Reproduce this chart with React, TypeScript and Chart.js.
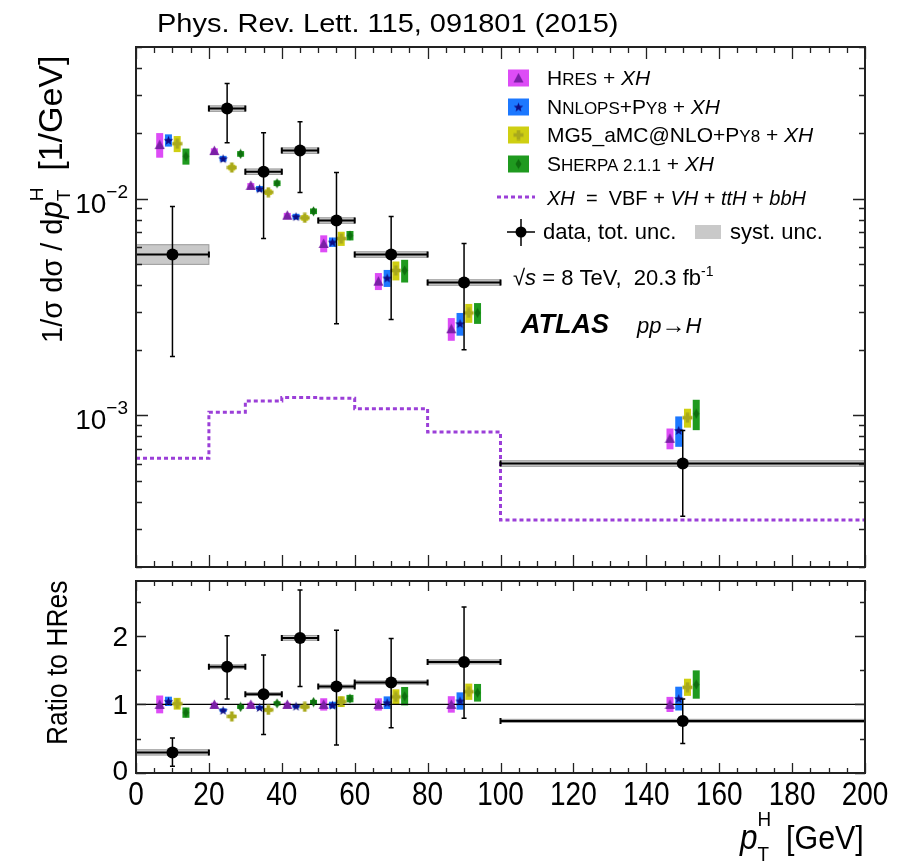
import React, { useEffect, useRef } from "react";
import { Chart, registerables } from "chart.js";
Chart.register(...registerables);

// ---------------- data ----------------
const binLo = [0, 20, 30, 40, 50, 60, 80, 100];
const binHi = [20, 30, 40, 50, 60, 80, 100, 200];
const binCenter = [10, 25, 35, 45, 55, 70, 90, 150];

const dataVal = [5.52e-3, 0.026, 0.0133, 0.01664, 0.00792, 0.00552, 0.0041, 6.0e-4];
const dataErrHi = [9.2e-3, 0.0339, 0.0201, 0.0226, 0.0132, 0.00826, 0.0062, 8.53e-4];
const dataErrLo = [1.87e-3, 0.0181, 0.00655, 0.01066, 0.00265, 0.00277, 0.00201, 3.43e-4];
const dataSystRel = [0.11, 0.03, 0.03, 0.03, 0.03, 0.03, 0.03, 0.03];

const ratioVal = [0.3, 1.55, 1.15, 1.97, 1.26, 1.32, 1.62, 0.76];
const ratioErrHi = [0.51, 2.0, 1.72, 2.67, 2.08, 1.96, 2.42, 1.08];
const ratioErrLo = [0.1, 1.08, 0.56, 1.26, 0.41, 0.66, 0.8, 0.43];
const ratioSystRel = [0.13, 0.018, 0.018, 0.018, 0.018, 0.018, 0.018, 0.03];

const xhVal = [6.34e-4, 1.035e-3, 1.164e-3, 1.21e-3, 1.2e-3, 1.074e-3, 8.38e-4, 3.29e-4];

const hresVal = [0.01774, 0.01664, 0.0115, 0.00838, 0.00621, 0.00416, 0.00251, 7.84e-4];
const nnlopsVal = [0.01857, 0.01528, 0.0111, 0.00826, 0.0063, 0.0043, 0.00265, 8.53e-4];
const mg5Val = [0.0179, 0.0139, 0.0107, 0.00815, 0.00654, 0.00466, 0.00297, 9.76e-4];
const sherpaVal = [0.01567, 0.01607, 0.01177, 0.00874, 0.00675, 0.00466, 0.00297, 1.018e-3];

const hresRatio = [1, 1, 1, 1, 1, 1, 1, 1];
const nnlopsRatio = [1.045, 0.915, 0.955, 0.975, 0.99, 1.025, 1.05, 1.085];
const mg5Ratio = [1.01, 0.825, 0.92, 0.965, 1.04, 1.11, 1.185, 1.25];
const sherpaRatio = [0.88, 0.963, 1.015, 1.035, 1.085, 1.12, 1.17, 1.29];

const hresUnc = [0.13, 0.025, 0.025, 0.025, 0.09, 0.09, 0.12, 0.11];
const nnlopsUnc = [0.065, 0.03, 0.03, 0.03, 0.05, 0.09, 0.12, 0.16];
const mg5Unc = [0.085, 0.03, 0.03, 0.03, 0.075, 0.1, 0.1, 0.1];
const sherpaUnc = [0.085, 0.03, 0.03, 0.03, 0.05, 0.12, 0.11, 0.16];

const modelOffset = [-3.5, -1.1, 1.3, 3.7];

const xTickLabels = ["0", "20", "40", "60", "80", "100", "120", "140", "160", "180", "200"];
const ratioTickLabels = ["0", "1", "2"];
const logTickExp = [-2, -3];

// ---------------- styling ----------------
const FONT = '"Liberation Sans", Arial, Helvetica, sans-serif';
const W = 908;
const TOP_H = 575;
const BOT_H = 292;
const bandColors = ["#dd4cf6", "#1c78ff", "#cfcf12", "#1f9a1f"];
const markerColors = ["#7a1fa6", "#0c0c84", "#a9a91c", "#0f6e0f"];
const markerKinds = ["tri", "star", "plus", "diamond"];
const xhColor = "#9b3fd8";

type Seg = { t: string; size: number; style?: string; dy?: number; adv?: boolean };

function richWidth(ctx: CanvasRenderingContext2D, segs: Seg[]) {
  let w = 0;
  for (const s of segs) {
    ctx.font = `${s.style ?? ""} ${s.size}px ${FONT}`;
    if (s.adv !== false) w += ctx.measureText(s.t).width;
  }
  return w;
}

function drawRich(ctx: CanvasRenderingContext2D, segs: Seg[], x: number, y: number, sx = 1, sy = 1, rot = 0) {
  ctx.save();
  ctx.translate(x, y);
  if (rot) ctx.rotate(rot);
  ctx.scale(sx, sy);
  ctx.fillStyle = "#000";
  ctx.textBaseline = "alphabetic";
  ctx.textAlign = "left";
  let cx = 0;
  for (const s of segs) {
    ctx.font = `${s.style ?? ""} ${s.size}px ${FONT}`;
    ctx.fillText(s.t, cx, s.dy ?? 0);
    if (s.adv !== false) cx += ctx.measureText(s.t).width;
  }
  ctx.restore();
}

function makeMarker(kind: string, color: string) {
  const c = document.createElement("canvas");
  const size = 11;
  c.width = size;
  c.height = size;
  const g = c.getContext("2d")!;
  g.fillStyle = color;
  const m = size / 2;
  g.beginPath();
  if (kind === "tri") {
    g.moveTo(m, 0.5);
    g.lineTo(size - 0.5, size - 1);
    g.lineTo(0.5, size - 1);
    g.closePath();
    g.fill();
  } else if (kind === "star") {
    const R = 5, r = 2.1;
    for (let i = 0; i < 10; i++) {
      const a = -Math.PI / 2 + (i * Math.PI) / 5;
      const rr = i % 2 === 0 ? R : r;
      const px = m + rr * Math.cos(a);
      const py = m + 0.5 + rr * Math.sin(a);
      if (i === 0) g.moveTo(px, py);
      else g.lineTo(px, py);
    }
    g.closePath();
    g.fill();
  } else if (kind === "plus") {
    g.fillRect(m - 1.8, 0.5, 3.6, size - 1);
    g.fillRect(0.5, m - 1.8, size - 1, 3.6);
  } else {
    g.moveTo(m, 0.5);
    g.lineTo(m + 3, m);
    g.lineTo(m, size - 0.5);
    g.lineTo(m - 3, m);
    g.closePath();
    g.fill();
  }
  return c;
}

function drawFrameAndXTicks(ctx: CanvasRenderingContext2D, chart: any, majorLen: number, minorLen: number) {
  const { left, right, top, bottom } = chart.chartArea;
  const xs = chart.scales.x;
  ctx.save();
  ctx.strokeStyle = "#222";
  ctx.lineWidth = 1.3;
  ctx.beginPath();
  for (let v = 0; v <= 200; v += 5) {
    const px = Math.round(xs.getPixelForValue(v)) + 0.5;
    const len = v % 20 === 0 ? majorLen : minorLen;
    ctx.moveTo(px, bottom);
    ctx.lineTo(px, bottom - len);
    ctx.moveTo(px, top);
    ctx.lineTo(px, top + len);
  }
  ctx.stroke();
  ctx.lineWidth = 2;
  ctx.strokeRect(left, top, right - left, bottom - top);
  ctx.restore();
}

function drawYTicks(ctx: CanvasRenderingContext2D, chart: any, vals: number[], majors: Set<number>, majorLen: number, minorLen: number) {
  const { left, right } = chart.chartArea;
  const ys = chart.scales.y;
  ctx.save();
  ctx.strokeStyle = "#222";
  ctx.lineWidth = 1.3;
  ctx.beginPath();
  for (const v of vals) {
    const py = Math.round(ys.getPixelForValue(v)) + 0.5;
    const len = majors.has(v) ? majorLen : minorLen;
    ctx.moveTo(left, py);
    ctx.lineTo(left + len, py);
    ctx.moveTo(right, py);
    ctx.lineTo(right - len, py);
  }
  ctx.stroke();
  ctx.restore();
}

function drawErrorBars(ctx: CanvasRenderingContext2D, chart: any, val: number[], lo: number[], hi: number[]) {
  const xs = chart.scales.x;
  const ys = chart.scales.y;
  ctx.save();
  ctx.strokeStyle = "#000";
  for (let i = 0; i < val.length; i++) {
    const cx = xs.getPixelForValue(binCenter[i]);
    const cy = ys.getPixelForValue(val[i]);
    const y1 = ys.getPixelForValue(hi[i]);
    const y2 = ys.getPixelForValue(lo[i]);
    const x1 = xs.getPixelForValue(binLo[i]);
    const x2 = xs.getPixelForValue(binHi[i]);
    ctx.lineWidth = 1.5;
    ctx.beginPath();
    ctx.moveTo(cx, y1);
    ctx.lineTo(cx, y2);
    ctx.moveTo(cx - 2.5, y1);
    ctx.lineTo(cx + 2.5, y1);
    ctx.moveTo(cx - 2.5, y2);
    ctx.lineTo(cx + 2.5, y2);
    ctx.stroke();
    ctx.lineWidth = 2;
    ctx.beginPath();
    ctx.moveTo(x1, cy);
    ctx.lineTo(x2, cy);
    ctx.moveTo(x1, cy - 3);
    ctx.lineTo(x1, cy + 3);
    ctx.moveTo(x2, cy - 3);
    ctx.lineTo(x2, cy + 3);
    ctx.stroke();
  }
  ctx.restore();
}

function drawSystAndBands(ctx: CanvasRenderingContext2D, chart: any, val: number[], syst: number[], models: number[][], uncs: number[][], isRatio: boolean) {
  const xs = chart.scales.x;
  const ys = chart.scales.y;
  ctx.save();
  for (let i = 0; i < val.length; i++) {
    const x1 = xs.getPixelForValue(binLo[i]);
    const x2 = xs.getPixelForValue(binHi[i]);
    const d = val[i] * syst[i];
    const yt = isRatio ? ys.getPixelForValue(val[i] + d) : ys.getPixelForValue(val[i] * (1 + syst[i]));
    const yb = isRatio ? ys.getPixelForValue(val[i] - d) : ys.getPixelForValue(val[i] / (1 + syst[i]));
    ctx.fillStyle = "#c9c9c9";
    ctx.fillRect(x1, yt, x2 - x1, yb - yt);
    ctx.strokeStyle = "#9a9a9a";
    ctx.lineWidth = 1;
    ctx.strokeRect(x1, yt, x2 - x1, yb - yt);
  }
  for (let m = 0; m < models.length; m++) {
    ctx.fillStyle = bandColors[m];
    for (let i = 0; i < models[m].length; i++) {
      const px = xs.getPixelForValue(binCenter[i] + modelOffset[m]);
      const v = models[m][i];
      const yt = ys.getPixelForValue(v * (1 + uncs[m][i]));
      const yb = ys.getPixelForValue(v * (1 - uncs[m][i]));
      ctx.fillRect(px - 3.5, yt, 7, yb - yt);
    }
  }
  ctx.restore();
}

function modelDatasets(models: number[][], images: HTMLCanvasElement[]) {
  return models.map((arr, m) => ({
    type: "scatter" as const,
    data: arr.map((v, i) => ({ x: binCenter[i] + modelOffset[m], y: v })),
    pointStyle: images[m] as any,
    pointRadius: 5,
    order: 1,
  }));
}

export default function App() {
  const topRef = useRef<HTMLCanvasElement>(null);
  const botRef = useRef<HTMLCanvasElement>(null);

  useEffect(() => {
    const images = markerKinds.map((k, i) => makeMarker(k, markerColors[i]));
    const topModels = [hresVal, nnlopsVal, mg5Val, sherpaVal];
    const ratioModels = [hresRatio, nnlopsRatio, mg5Ratio, sherpaRatio];
    const uncs = [hresUnc, nnlopsUnc, mg5Unc, sherpaUnc];

    const xhPoints = binLo.map((b, i) => ({ x: b, y: xhVal[i] }));
    xhPoints.push({ x: 200, y: xhVal[xhVal.length - 1] });

    const topPlugin = {
      id: "topDeco",
      beforeDatasetsDraw(chart: any) {
        drawSystAndBands(chart.ctx, chart, dataVal, dataSystRel, topModels, uncs, false);
      },
      beforeDatasetDraw(chart: any, args: any) {
        if (args.index === 0) drawErrorBars(chart.ctx, chart, dataVal, dataErrLo, dataErrHi);
      },
      afterDraw(chart: any) {
        const ctx: CanvasRenderingContext2D = chart.ctx;
        drawFrameAndXTicks(ctx, chart, 12, 6);
        const ticks: number[] = [];
        const majors = new Set<number>();
        for (let e = -4; e <= -2; e++) {
          for (let k = 1; k <= 9; k++) {
            const v = k * Math.pow(10, e);
            if (v >= 2e-4 - 1e-12 && v <= 5e-2 + 1e-12) {
              ticks.push(v);
              if (k === 1) majors.add(v);
            }
          }
        }
        drawYTicks(ctx, chart, ticks, majors, 12, 6);
        const ys = chart.scales.y;
        for (const e of logTickExp) {
          const py = ys.getPixelForValue(Math.pow(10, e));
          const segs: Seg[] = [
            { t: "10", size: 28 },
            { t: "\u2212" + String(-e), size: 19, dy: -15 },
          ];
          const w = richWidth(ctx, segs);
          drawRich(ctx, segs, 128 - w, py + 14);
        }
        drawRich(ctx, [{ t: "Phys. Rev. Lett. 115, 091801 (2015)", size: 26 }], 157, 32, 1.115, 1);
        drawRich(
          ctx,
          [
            { t: "1/\u03c3 d\u03c3 / d", size: 29 },
            { t: "p", size: 31, style: "italic" },
            { t: "H", size: 19, dy: -19, adv: false },
            { t: "T", size: 19, dy: 8 },
            { t: "  [1/GeV]", size: 34 },
          ],
          62,
          343,
          1,
          1,
          -Math.PI / 2
        );
        const lx = 508;
        const rows = [78, 107, 135, 164];
        for (let m = 0; m < 4; m++) {
          ctx.fillStyle = bandColors[m];
          ctx.fillRect(lx, rows[m] - 8.5, 21, 17);
          ctx.drawImage(images[m], lx + 5, rows[m] - 5.5);
        }
        const fs = 21, sc = 17;
        drawRich(ctx, [{ t: "H", size: fs }, { t: "RES", size: sc }, { t: " + ", size: fs }, { t: "XH", size: fs, style: "italic" }], 547, 85);
        drawRich(ctx, [{ t: "N", size: fs }, { t: "NLOPS", size: sc }, { t: "+P", size: fs }, { t: "Y8", size: sc }, { t: " + ", size: fs }, { t: "XH", size: fs, style: "italic" }], 547, 114);
        drawRich(ctx, [{ t: "MG5_aMC@NLO+P", size: fs }, { t: "Y8", size: sc }, { t: " + ", size: fs }, { t: "XH", size: fs, style: "italic" }], 547, 142);
        drawRich(ctx, [{ t: "S", size: fs }, { t: "HERPA", size: sc }, { t: " 2.1.1", size: sc }, { t: " + ", size: fs }, { t: "XH", size: fs, style: "italic" }], 547, 171);
        ctx.save();
        ctx.strokeStyle = xhColor;
        ctx.lineWidth = 3;
        ctx.setLineDash([4, 3]);
        ctx.beginPath();
        ctx.moveTo(497, 197);
        ctx.lineTo(535, 197);
        ctx.stroke();
        ctx.restore();
        const xf = 20;
        drawRich(
          ctx,
          [
            { t: "XH", size: xf, style: "italic" },
            { t: "  =  VBF + ", size: xf },
            { t: "VH", size: xf, style: "italic" },
            { t: " + ", size: xf },
            { t: "ttH", size: xf, style: "italic" },
            { t: " + ", size: xf },
            { t: "bbH", size: xf, style: "italic" },
          ],
          547,
          205
        );
        ctx.save();
        ctx.strokeStyle = "#000";
        ctx.lineWidth = 1.5;
        ctx.beginPath();
        ctx.moveTo(507, 232);
        ctx.lineTo(535, 232);
        ctx.moveTo(521, 219);
        ctx.lineTo(521, 246);
        ctx.stroke();
        ctx.fillStyle = "#000";
        ctx.beginPath();
        ctx.arc(521, 232, 5.5, 0, Math.PI * 2);
        ctx.fill();
        ctx.fillStyle = "#c9c9c9";
        ctx.fillRect(695, 225, 26, 14);
        ctx.restore();
        drawRich(ctx, [{ t: "data, tot. unc.", size: 22 }], 543, 239);
        drawRich(ctx, [{ t: "syst. unc.", size: 22 }], 730, 239);
        drawRich(
          ctx,
          [
            { t: "\u221a", size: 22 },
            { t: "s", size: 22, style: "italic" },
            { t: " = 8 TeV,  20.3 fb", size: 22 },
            { t: "-1", size: 14, dy: -9 },
          ],
          513,
          285
        );
        drawRich(ctx, [{ t: "ATLAS", size: 27, style: "italic bold" }], 521, 333);
        drawRich(
          ctx,
          [
            { t: "pp", size: 22, style: "italic" },
            { t: "\u2192", size: 24 },
            { t: "H", size: 22, style: "italic" },
          ],
          637,
          333
        );
      },
    };

    const botPlugin = {
      id: "botDeco",
      beforeDatasetsDraw(chart: any) {
        drawSystAndBands(chart.ctx, chart, ratioVal, ratioSystRel, ratioModels, uncs, true);
      },
      beforeDatasetDraw(chart: any, args: any) {
        if (args.index === 0) drawErrorBars(chart.ctx, chart, ratioVal, ratioErrLo, ratioErrHi);
      },
      afterDraw(chart: any) {
        const ctx: CanvasRenderingContext2D = chart.ctx;
        drawFrameAndXTicks(ctx, chart, 10, 5);
        const vals = [0, 0.5, 1, 1.5, 2, 2.5];
        drawYTicks(ctx, chart, vals, new Set([0, 1, 2]), 10, 5);
        const ys = chart.scales.y;
        const xs = chart.scales.x;
        ratioTickLabels.forEach((lab, i) => {
          const py = ys.getPixelForValue(i);
          const segs: Seg[] = [{ t: lab, size: 28 }];
          const w = richWidth(ctx, segs);
          drawRich(ctx, segs, 128 - w, py + (i === 0 ? 7 : 10));
        });
        xTickLabels.forEach((lab) => {
          const px = xs.getPixelForValue(Number(lab));
          const segs: Seg[] = [{ t: lab, size: 28 }];
          const w = richWidth(ctx, segs);
          drawRich(ctx, segs, px - w / 2, 805 - 575, 1, 1.2);
        });
        drawRich(ctx, [{ t: "Ratio to HRes", size: 30 }], 67, 745 - 575, 0.88, 1, -Math.PI / 2);
        drawRich(
          ctx,
          [
            { t: "p", size: 30, style: "italic" },
            { t: "H", size: 18, dy: -20, adv: false },
            { t: "T", size: 18, dy: 10 },
            { t: "  [GeV]", size: 29 },
          ],
          740,
          849 - 575,
          1.05,
          1.15
        );
      },
    };

    const common = {
      responsive: false,
      maintainAspectRatio: false,
      devicePixelRatio: 1,
      animation: false as const,
      events: [] as any[],
      plugins: { legend: { display: false }, tooltip: { enabled: false }, title: { display: false } },
    };

    const top = new Chart(topRef.current!, {
      type: "line",
      data: {
        datasets: [
          {
            type: "scatter",
            data: dataVal.map((v, i) => ({ x: binCenter[i], y: v })),
            pointStyle: "circle",
            pointRadius: 6,
            backgroundColor: "#000",
            borderColor: "#000",
            borderWidth: 0,
            order: 0,
          } as any,
          ...(modelDatasets(topModels, images) as any[]),
          {
            type: "line",
            data: xhPoints,
            stepped: "before",
            borderColor: xhColor,
            borderWidth: 3,
            borderDash: [4, 3],
            pointRadius: 0,
            fill: false,
            order: 2,
          } as any,
        ],
      },
      options: {
        ...common,
        layout: { padding: { left: 136, right: W - 865, top: 47, bottom: TOP_H - 567 } },
        scales: {
          x: { type: "linear", min: 0, max: 200, display: false },
          y: { type: "logarithmic", min: 2e-4, max: 5e-2, display: false },
        },
      } as any,
      plugins: [topPlugin],
    });

    const bot = new Chart(botRef.current!, {
      type: "line",
      data: {
        datasets: [
          {
            type: "scatter",
            data: ratioVal.map((v, i) => ({ x: binCenter[i], y: v })),
            pointStyle: "circle",
            pointRadius: 6,
            backgroundColor: "#000",
            borderColor: "#000",
            borderWidth: 0,
            order: 0,
          } as any,
          ...(modelDatasets(ratioModels, images) as any[]),
          {
            type: "line",
            data: [
              { x: 0, y: 1 },
              { x: 200, y: 1 },
            ],
            borderColor: "#000",
            borderWidth: 1.3,
            pointRadius: 0,
            fill: false,
            order: 3,
          } as any,
        ],
      },
      options: {
        ...common,
        layout: { padding: { left: 136, right: W - 865, top: 578 - 575, bottom: BOT_H - (773 - 575) } },
        scales: {
          x: { type: "linear", min: 0, max: 200, display: false },
          y: { type: "linear", min: 0, max: 2.8, display: false },
        },
      } as any,
      plugins: [botPlugin],
    });

    return () => {
      top.destroy();
      bot.destroy();
    };
  }, []);

  return (
    <div style={{ position: "absolute", left: 0, top: 0, width: W, height: 867, background: "#fff", overflow: "hidden" }}>
      <canvas ref={topRef} width={W} height={TOP_H} style={{ position: "absolute", left: 0, top: 0, width: W, height: TOP_H }} />
      <canvas ref={botRef} width={W} height={BOT_H} style={{ position: "absolute", left: 0, top: TOP_H, width: W, height: BOT_H }} />
    </div>
  );
}
